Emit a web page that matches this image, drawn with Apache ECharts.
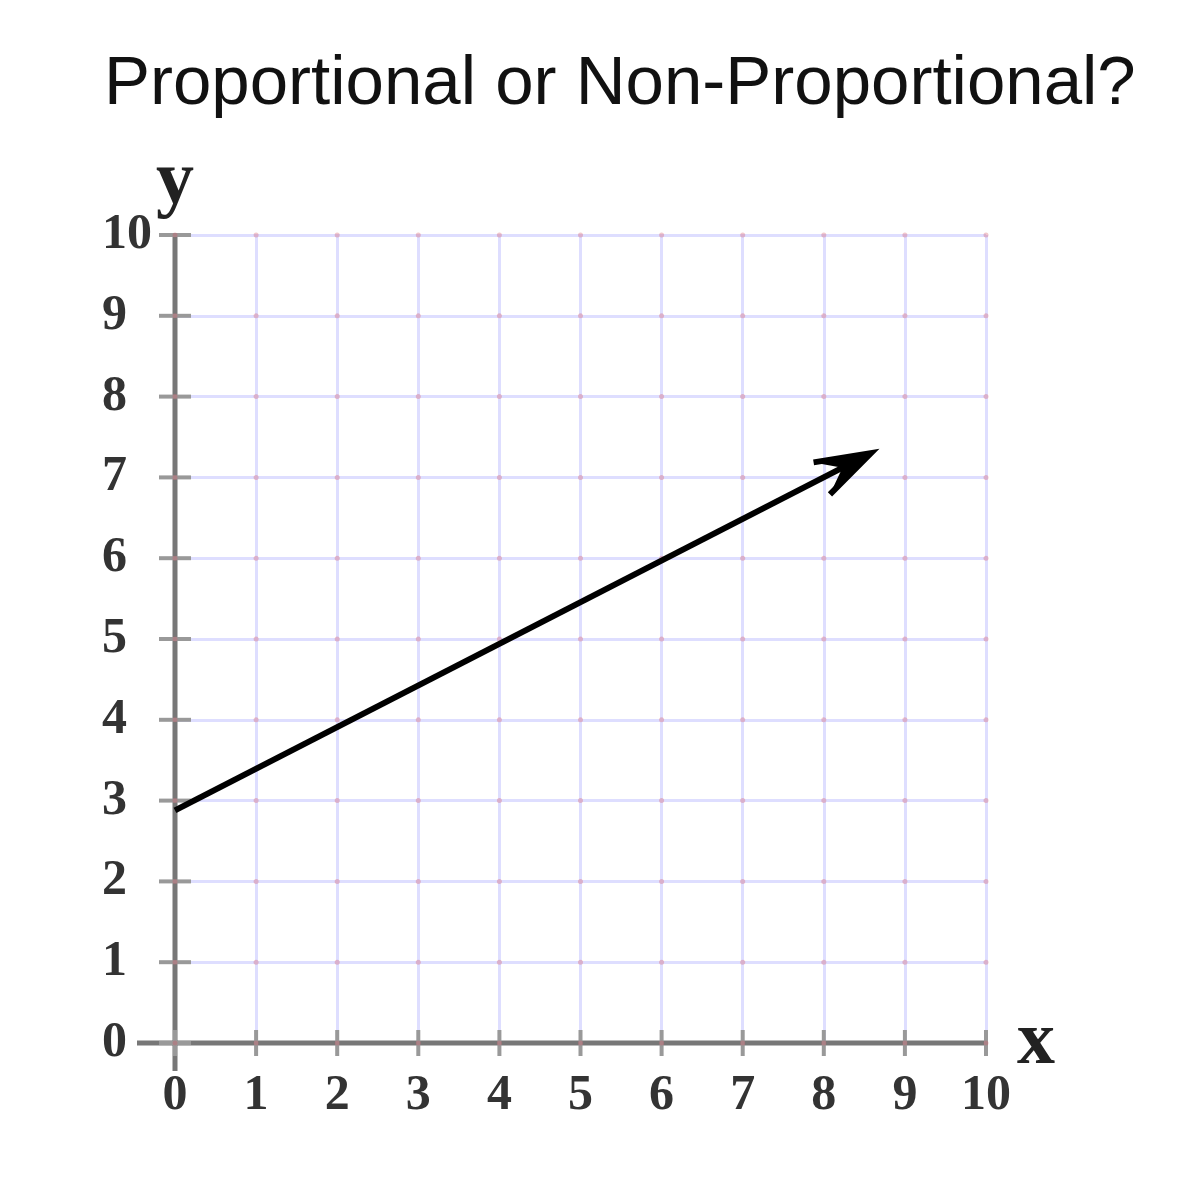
<!DOCTYPE html>
<html>
<head>
<meta charset="utf-8">
<script src="https://cdn.jsdelivr.net/npm/echarts@6/dist/echarts.min.js"></script>
<style>
  html, body { margin: 0; padding: 0; background: #fff; }
  #chart { width: 1184px; height: 1200px; }
</style>
</head>
<body>
<div id="chart"></div>
<script>
const xTicks = [0, 1, 2, 3, 4, 5, 6, 7, 8, 9, 10];
const yTicks = [0, 1, 2, 3, 4, 5, 6, 7, 8, 9, 10];
// the ray: start and arrow tip
const rayX = [0, 8.58];
const rayY = [2.88, 7.3];

const chart = echarts.init(document.getElementById('chart'));

const labelStyle = {
  fontFamily: 'Liberation Serif',
  fontWeight: 'bold',
  fontSize: 50,
  color: '#333'
};

// small red dots where the grid lines cross
const dots = [];
xTicks.forEach(x => yTicks.forEach(y => dots.push([x, y])));

const option = {
  animation: false,
  title: {
    text: 'Proportional or Non-Proportional?',
    left: 99,
    top: 45,
    textStyle: {
      fontFamily: 'Liberation Sans',
      fontWeight: 'normal',
      fontSize: 69,
      color: '#111'
    }
  },
  grid: {left: 175, right: 198, top: 235, bottom: 157},
  xAxis: {
    type: 'value',
    min: 0,
    max: 10,
    interval: 1,
    name: 'x',
    nameLocation: 'end',
    nameGap: 16,
    nameTextStyle: {fontFamily: 'Liberation Serif', fontWeight: 'bold', fontSize: 76, color: '#222', verticalAlign: 'middle', padding: [0, 0, 8, 0]},
    axisLine: {show: false},
    axisTick: {show: false},
    axisLabel: Object.assign({margin: 28}, labelStyle),
    splitLine: {lineStyle: {color: '#dedeff', width: 3}}
  },
  yAxis: {
    type: 'value',
    min: 0,
    max: 10,
    interval: 1,
    name: 'y',
    nameLocation: 'end',
    nameGap: 14,
    nameMoveOverlap: false,
    nameTextStyle: {fontFamily: 'Liberation Serif', fontWeight: 'bold', fontSize: 76, color: '#222', align: 'center'},
    axisLine: {show: false},
    axisTick: {show: false},
    axisLabel: Object.assign({margin: 73, align: 'left'}, labelStyle),
    splitLine: {lineStyle: {color: '#dedeff', width: 3}}
  },
  series: [
    {
      // axis lines with ticks crossing them
      type: 'custom',
      clip: false,
      z: 3,
      data: [[0, 0]],
      renderItem: function (params, api) {
        const o = api.coord([0, 0]);
        const xe = api.coord([xTicks[xTicks.length - 1], 0]);
        const ye = api.coord([0, yTicks[yTicks.length - 1]]);
        const st = {stroke: '#777', lineWidth: 5};
        const children = [
          {type: 'line', shape: {x1: o[0] - 38, y1: o[1], x2: xe[0], y2: xe[1]}, style: st},
          {type: 'line', shape: {x1: o[0], y1: o[1] + 28, x2: ye[0], y2: ye[1]}, style: st}
        ];
        xTicks.forEach(v => {
          const p = api.coord([v, 0]);
          children.push({type: 'line', shape: {x1: p[0], y1: p[1] - 13, x2: p[0], y2: p[1] + 13}, style: {stroke: '#999', lineWidth: 4}});
        });
        yTicks.forEach(v => {
          const p = api.coord([0, v]);
          children.push({type: 'line', shape: {x1: p[0] - 16, y1: p[1], x2: p[0] + 16, y2: p[1]}, style: {stroke: '#999', lineWidth: 4}});
        });
        return {type: 'group', children: children};
      }
    },
    {
      type: 'scatter',
      data: dots,
      symbolSize: 5,
      z: 4,
      silent: true,
      itemStyle: {color: 'rgba(210, 80, 95, 0.4)'}
    },
    {
      // the ray with its arrow head
      type: 'custom',
      clip: false,
      z: 5,
      data: [[rayX[0], rayY[0], rayX[1], rayY[1]]],
      renderItem: function (params, api) {
        const a = api.coord([api.value(0), api.value(1)]);
        const b = api.coord([api.value(2), api.value(3)]);
        const ang = Math.atan2(b[1] - a[1], b[0] - a[0]);
        const len = 58, spread = 18 * Math.PI / 180;
        const back = ang + Math.PI;
        const p1 = [b[0] + len * Math.cos(back - spread), b[1] + len * Math.sin(back - spread)];
        const p2 = [b[0] + len * Math.cos(back + spread), b[1] + len * Math.sin(back + spread)];
        const inner = [b[0] + 0.55 * len * Math.cos(back), b[1] + 0.55 * len * Math.sin(back)];
        const st = {stroke: '#000', lineWidth: 6, fill: null, lineJoin: 'miter', lineCap: 'butt'};
        return {
          type: 'group',
          children: [
            {type: 'line', shape: {x1: a[0], y1: a[1], x2: b[0] - 6 * Math.cos(ang), y2: b[1] - 6 * Math.sin(ang)}, style: st},
            {type: 'polygon', shape: {points: [b, p1, inner, p2]}, style: {fill: '#000', stroke: null}},
            {type: 'polyline', shape: {points: [p1, b, p2]}, style: st}
          ]
        };
      }
    }
  ]
};

chart.setOption(option);
</script>
</body>
</html>
